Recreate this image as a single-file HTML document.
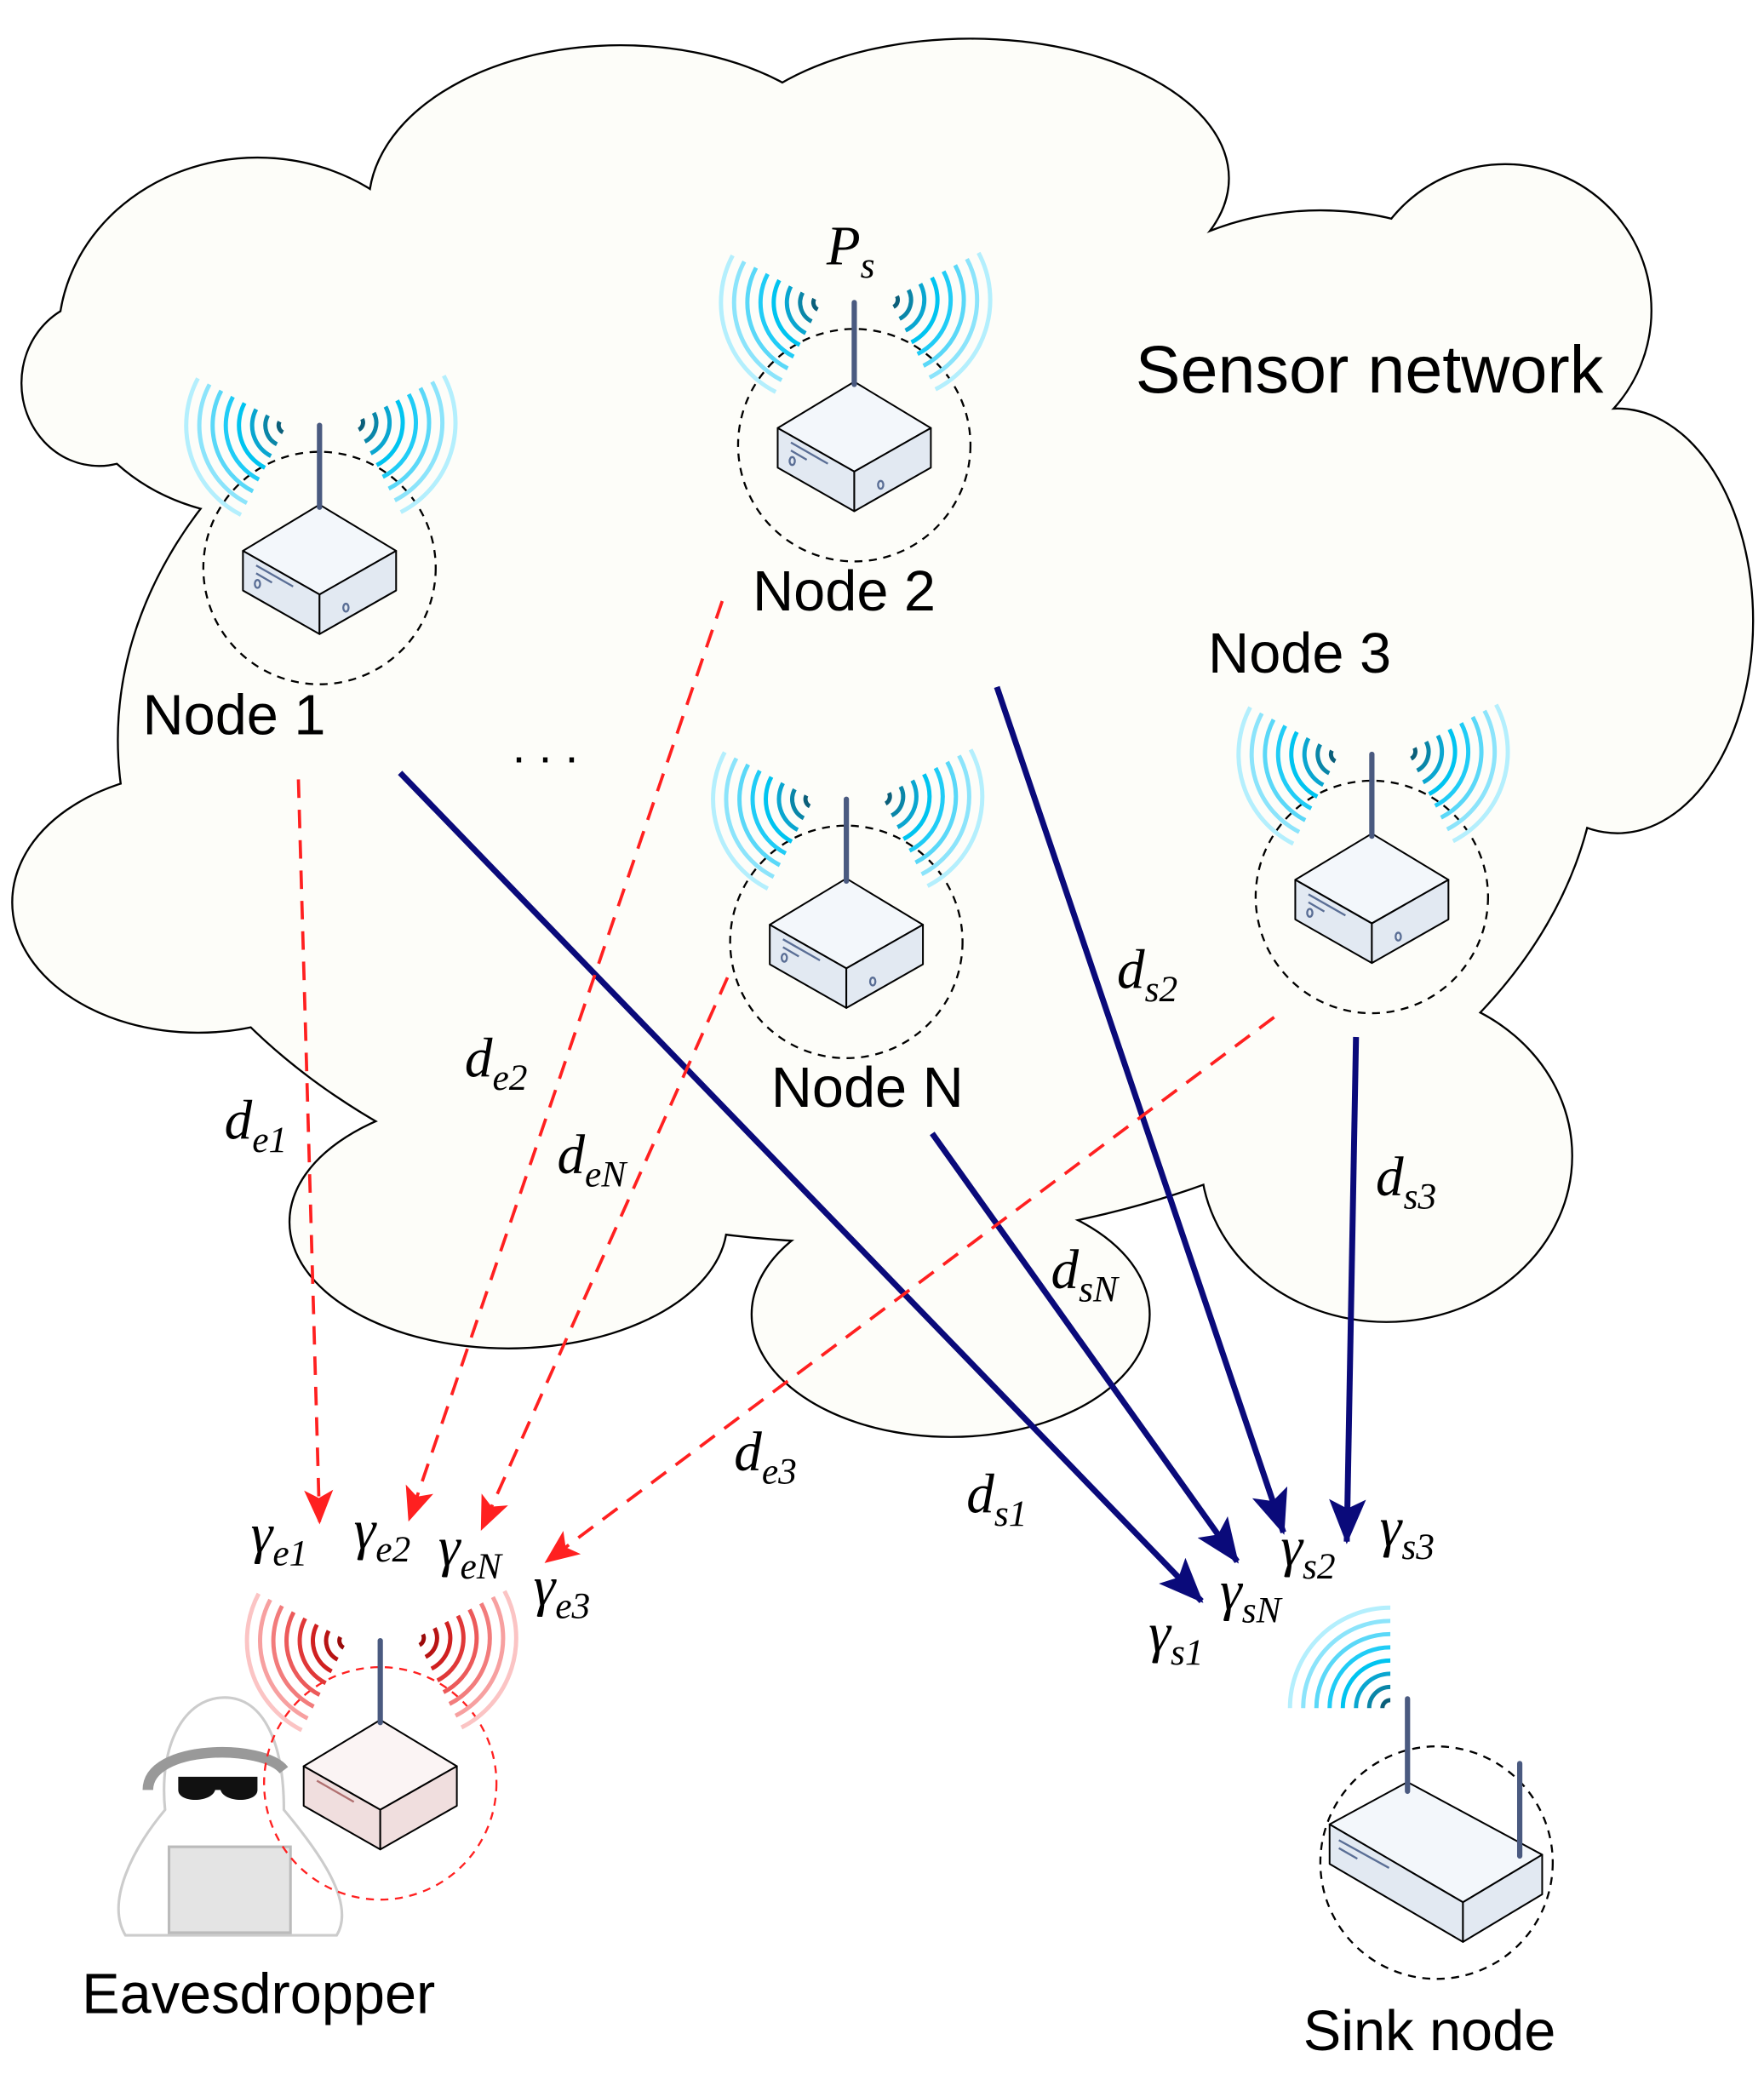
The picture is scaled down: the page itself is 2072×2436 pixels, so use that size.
<!DOCTYPE html>
<html><head><meta charset="utf-8"><style>
html,body{margin:0;padding:0;background:#fff}
svg{display:block}
.lbl{font-family:"Liberation Serif",serif;font-style:italic;fill:#000}
.sans{font-family:"Liberation Sans",sans-serif;fill:#000}
</style></head><body>
<svg width="2072" height="2436" viewBox="0 0 1336 1570" preserveAspectRatio="none" xmlns="http://www.w3.org/2000/svg">
<defs>
<g id="cl">
<ellipse cx="75" cy="290" rx="58" ry="62"/>
<ellipse cx="195" cy="255" rx="150" ry="135"/>
<ellipse cx="470" cy="155" rx="190" ry="120"/>
<ellipse cx="735" cy="135" rx="195" ry="105"/>
<ellipse cx="1140" cy="235" rx="110" ry="110"/>
<ellipse cx="1225" cy="470" rx="102" ry="160"/>
<ellipse cx="1000" cy="330" rx="200" ry="170"/>
<ellipse cx="650" cy="560" rx="560" ry="380"/>
<ellipse cx="150" cy="683" rx="140" ry="98"/>
<ellipse cx="385" cy="925" rx="165" ry="95"/>
<ellipse cx="720" cy="995" rx="150" ry="92"/>
<ellipse cx="1050" cy="875" rx="140" ry="125"/>
</g>
<g id="box" stroke-linejoin="round">
<polygon points="-58,-13 0,-48 58,-13 0,20" fill="#f3f7fb" stroke="#000" stroke-width="1.3"/>
<polygon points="-58,-13 0,20 0,50 -58,17" fill="#e2e9f2" stroke="#000" stroke-width="1.3"/>
<polygon points="0,20 58,-13 58,17 0,50" fill="#e2e9f2" stroke="#000" stroke-width="1.3"/>
<line x1="-48" y1="-2" x2="-20" y2="14" stroke="#5a6e95" stroke-width="1.5"/>
<line x1="-48" y1="4" x2="-36" y2="11" stroke="#5a6e95" stroke-width="1.5"/>
<ellipse cx="-47" cy="12" rx="2" ry="3" fill="none" stroke="#5a6e95" stroke-width="1.5"/>
<ellipse cx="20" cy="30" rx="2" ry="3" fill="none" stroke="#5a6e95" stroke-width="1.5"/>
<line x1="0" y1="-46" x2="0" y2="-108" stroke="#4a5a80" stroke-width="4" stroke-linecap="round"/>
</g>
<g id="wl" fill="none" stroke-width="3.2">
<path d="M-5.3,-2.8 A6,6 0 0 0 -2.7,5.3" stroke="#0b5f7a"/>
<path d="M-14.1,-7.5 A16,16 0 0 0 -7.3,14.3" stroke="#0a86a8"/>
<path d="M-23,-12.2 A26,26 0 0 0 -11.8,23.2" stroke="#0aa6d0"/>
<path d="M-31.8,-16.9 A36,36 0 0 0 -16.3,32.1" stroke="#00c4f0"/>
<path d="M-40.6,-21.6 A46,46 0 0 0 -20.9,41" stroke="#20ccf6"/>
<path d="M-49.4,-26.3 A56,56 0 0 0 -25.4,49.9" stroke="#5ad8f8"/>
<path d="M-58.3,-31 A66,66 0 0 0 -30,58.8" stroke="#8ce4fb"/>
<path d="M-67.1,-35.6 A76,76 0 0 0 -34.5,67.7" stroke="#b4effd"/>
</g>
<g id="waves"><use href="#wl" transform="translate(-25,-108)"/><use href="#wl" transform="translate(27,-110) scale(-1,1)"/></g>
<g id="wlr" fill="none" stroke-width="3.2">
<path d="M-5.3,-2.8 A6,6 0 0 0 -2.7,5.3" stroke="#9a0a0a"/>
<path d="M-14.1,-7.5 A16,16 0 0 0 -7.3,14.3" stroke="#b81414"/>
<path d="M-23,-12.2 A26,26 0 0 0 -11.8,23.2" stroke="#d02020"/>
<path d="M-31.8,-16.9 A36,36 0 0 0 -16.3,32.1" stroke="#e03838"/>
<path d="M-40.6,-21.6 A46,46 0 0 0 -20.9,41" stroke="#ec5a5a"/>
<path d="M-49.4,-26.3 A56,56 0 0 0 -25.4,49.9" stroke="#f27c7c"/>
<path d="M-58.3,-31 A66,66 0 0 0 -30,58.8" stroke="#f7a0a0"/>
<path d="M-67.1,-35.6 A76,76 0 0 0 -34.5,67.7" stroke="#fbc4c4"/>
</g>
<marker id="an" markerWidth="34" markerHeight="28" refX="32" refY="14" orient="auto" markerUnits="userSpaceOnUse" viewBox="0 0 34 28"><path d="M0,0 L34,14 L0,28 L7,14z" fill="#0a0a7a"/></marker>
<marker id="ar" markerWidth="26" markerHeight="22" refX="24" refY="11" orient="auto" markerUnits="userSpaceOnUse" viewBox="0 0 26 22"><path d="M0,0 L26,11 L0,22 L6,11z" fill="#ff2020"/></marker>
</defs>
<use href="#cl" fill="none" stroke="#000" stroke-width="3"/>
<use href="#cl" fill="#fdfdf9" stroke="none"/>

<text x="860" y="297" class="sans" font-size="51">Sensor network</text>
<text x="108" y="556" class="sans" font-size="43">Node 1</text>
<text x="570" y="462" class="sans" font-size="43">Node 2</text>
<text x="915" y="509" class="sans" font-size="43">Node 3</text>
<text x="584" y="838" class="sans" font-size="43">Node N</text>
<text x="388" y="577" class="sans" font-size="36">. . .</text>
<text x="62" y="1524" class="sans" font-size="43">Eavesdropper</text>
<text x="987" y="1552" class="sans" font-size="43">Sink node</text>
<text x="626" y="200" class="lbl" font-size="42">P<tspan font-size="28" dy="10">s</tspan></text>

<!-- nodes -->
<g transform="translate(242,430)"><circle r="88" fill="none" stroke="#000" stroke-dasharray="6,5" stroke-width="1.5"/><use href="#waves"/><use href="#box"/></g>
<g transform="translate(647,337)"><circle r="88" fill="none" stroke="#000" stroke-dasharray="6,5" stroke-width="1.5"/><use href="#waves"/><use href="#box"/></g>
<g transform="translate(641,713)"><circle r="88" fill="none" stroke="#000" stroke-dasharray="6,5" stroke-width="1.5"/><use href="#waves"/><use href="#box"/></g>
<g transform="translate(1039,679)"><circle r="88" fill="none" stroke="#000" stroke-dasharray="6,5" stroke-width="1.5"/><use href="#waves"/><use href="#box"/></g>

<!-- sink -->
<circle cx="1088" cy="1410" r="88" fill="none" stroke="#000" stroke-dasharray="6,5" stroke-width="1.5"/>
<g stroke-linejoin="round" stroke="#000" stroke-width="1.3">
<polygon points="1007,1381 1066,1349 1168,1404 1108,1440" fill="#f3f7fb"/>
<polygon points="1007,1381 1108,1440 1108,1470 1007,1411" fill="#e2e9f2"/>
<polygon points="1108,1440 1168,1404 1168,1434 1108,1470" fill="#e2e9f2"/>
</g>
<line x1="1014" y1="1393" x2="1052" y2="1414" stroke="#5a6e95" stroke-width="1.5"/>
<line x1="1014" y1="1399" x2="1028" y2="1407" stroke="#5a6e95" stroke-width="1.5"/>
<line x1="1066" y1="1286" x2="1066" y2="1356" stroke="#4a5a80" stroke-width="4" stroke-linecap="round"/>
<line x1="1151" y1="1335" x2="1151" y2="1405" stroke="#4a5a80" stroke-width="4" stroke-linecap="round"/>
<g fill="none" stroke-width="3.2" transform="translate(1053,1293)">
<path d="M-6,0 A6,6 0 0 1 0,-6" stroke="#0b5f7a"/>
<path d="M-16,0 A16,16 0 0 1 0,-16" stroke="#0a86a8"/>
<path d="M-26,0 A26,26 0 0 1 0,-26" stroke="#0aa6d0"/>
<path d="M-36,0 A36,36 0 0 1 0,-36" stroke="#00c4f0"/>
<path d="M-46,0 A46,46 0 0 1 0,-46" stroke="#20ccf6"/>
<path d="M-56,0 A56,56 0 0 1 0,-56" stroke="#5ad8f8"/>
<path d="M-66,0 A66,66 0 0 1 0,-66" stroke="#8ce4fb"/>
<path d="M-76,0 A76,76 0 0 1 0,-76" stroke="#b4effd"/>
</g>

<!-- eavesdropper -->
<path d="M95,1465 L255,1465 C270,1440 240,1400 215,1370 C215,1320 200,1285 170,1285 C140,1285 120,1320 125,1370 C100,1400 80,1440 95,1465Z" fill="#fff" stroke="#ccc" stroke-width="2"/>
<path d="M112,1355 C112,1320 200,1320 215,1340" fill="none" stroke="#999" stroke-width="8"/>
<path d="M135,1345 h60 v10 c0,10 -25,10 -28,0 h-4 c-3,10 -28,10 -28,0z" fill="#111"/>
<rect x="128" y="1398" width="92" height="65" fill="#e4e4e4" stroke="#bbb" stroke-width="2"/>
<g transform="translate(288,1350)"><circle r="88" fill="#fff" fill-opacity="0" stroke="#ff2020" stroke-dasharray="6,5" stroke-width="1.5"/>
<use href="#wlr" transform="translate(-25,-108)"/><use href="#wlr" transform="translate(27,-110) scale(-1,1)"/>
<g stroke-linejoin="round" stroke="#000" stroke-width="1.3">
<polygon points="-58,-13 0,-48 58,-13 0,20" fill="#fbf4f4"/>
<polygon points="-58,-13 0,20 0,50 -58,17" fill="#f0dede"/>
<polygon points="0,20 58,-13 58,17 0,50" fill="#f0dede"/>
</g>
<line x1="-48" y1="-2" x2="-20" y2="14" stroke="#b07070" stroke-width="1.5"/>
<line x1="0" y1="-46" x2="0" y2="-108" stroke="#4a5a80" stroke-width="4" stroke-linecap="round"/>
</g>

<!-- links -->
<g stroke="#0a0a7a" stroke-width="4.5" fill="none" marker-end="url(#an)">
<line x1="303" y1="585" x2="910" y2="1212"/>
<line x1="755" y1="520" x2="972" y2="1160"/>
<line x1="706" y1="858" x2="937" y2="1182"/>
<line x1="1027" y1="785" x2="1020" y2="1167"/>
</g>
<g stroke="#ff2020" stroke-width="2.4" fill="none" stroke-dasharray="14,9" marker-end="url(#ar)">
<line x1="226" y1="590" x2="242" y2="1152"/>
<line x1="547" y1="455" x2="310" y2="1150"/>
<line x1="551" y1="740" x2="365" y2="1157"/>
<line x1="965" y1="770" x2="414" y2="1182"/>
</g>

<g class="lbl" font-size="42">
<text x="170" y="862">d<tspan font-size="28" dy="10">e1</tspan></text>
<text x="352" y="815">d<tspan font-size="28" dy="10">e2</tspan></text>
<text x="422" y="888">d<tspan font-size="28" dy="10">eN</tspan></text>
<text x="556" y="1113">d<tspan font-size="28" dy="10">e3</tspan></text>
<text x="846" y="748">d<tspan font-size="28" dy="10">s2</tspan></text>
<text x="1042" y="905">d<tspan font-size="28" dy="10">s3</tspan></text>
<text x="796" y="975">d<tspan font-size="28" dy="10">sN</tspan></text>
<text x="732" y="1145">d<tspan font-size="28" dy="10">s1</tspan></text>
<text x="190" y="1175">γ<tspan font-size="28" dy="10">e1</tspan></text>
<text x="268" y="1172">γ<tspan font-size="28" dy="10">e2</tspan></text>
<text x="332" y="1185">γ<tspan font-size="28" dy="10">eN</tspan></text>
<text x="404" y="1215">γ<tspan font-size="28" dy="10">e3</tspan></text>
<text x="870" y="1250">γ<tspan font-size="28" dy="10">s1</tspan></text>
<text x="924" y="1218">γ<tspan font-size="28" dy="10">sN</tspan></text>
<text x="970" y="1185">γ<tspan font-size="28" dy="10">s2</tspan></text>
<text x="1045" y="1170">γ<tspan font-size="28" dy="10">s3</tspan></text>
</g>
</svg>
</body></html>
